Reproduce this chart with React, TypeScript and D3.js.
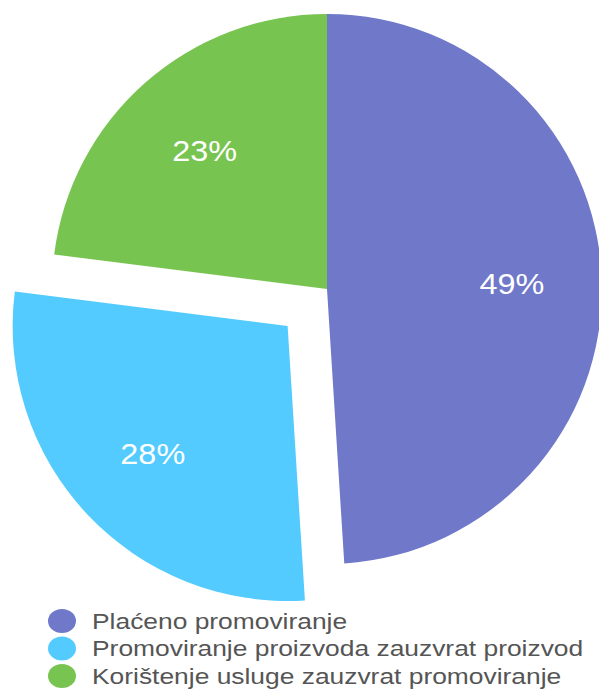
import React from "react";
import * as d3 from "d3";

const categories = [
  "Plaćeno promoviranje",
  "Promoviranje proizvoda zauzvrat proizvod",
  "Korištenje usluge zauzvrat promoviranje",
];
const values = [49, 28, 23];
const colors = ["#6f78c9", "#53cbfe", "#78c451"];
const exploded = [false, true, false];

export default function App() {
  const W = 599, H = 697;
  const cx = 327, cy = 289, r = 275;
  const offset = 54;
  const pie = d3.pie<number>().sort(null).value((d) => d)(values);
  const arc = d3.arc<d3.PieArcDatum<number>>().innerRadius(0).outerRadius(r);
  const labelArc = d3.arc<d3.PieArcDatum<number>>().innerRadius(185).outerRadius(185);
  const total = d3.sum(values);
  const font = "Liberation Sans, Arial, sans-serif";
  return (
    <svg width={W} height={H} style={{ position: "absolute", left: 0, top: 0 }}>
      <g transform={`translate(${cx},${cy})`}>
        {pie.map((p, i) => {
          const mid = (p.startAngle + p.endAngle) / 2;
          const dx = exploded[i] ? Math.sin(mid) * offset : 0;
          const dy = exploded[i] ? -Math.cos(mid) * offset : 0;
          const [lx, ly] = labelArc.centroid(p);
          return (
            <g key={i} transform={`translate(${dx},${dy})`}>
              <path d={arc(p) as string} fill={colors[i]} />
              <g transform={`translate(${lx},${ly + 1}) scale(1.08,1)`}>
                <text
                  textAnchor="middle"
                  dominantBaseline="central"
                  fill="#fff"
                  fontFamily={font}
                  fontSize={30}
                >
                  {Math.round((values[i] / total) * 100)}%
                </text>
              </g>
            </g>
          );
        })}
      </g>
      <g fontFamily={font} fontSize={22} fill="#555">
        {categories.map((c, i) => (
          <g key={c} transform={`translate(62,${621 + i * 27.5})`}>
            <ellipse rx={14} ry={12} fill={colors[i]} />
            <g transform="translate(30,0) scale(1.2,1)">
              <text dominantBaseline="central">{c}</text>
            </g>
          </g>
        ))}
      </g>
    </svg>
  );
}
